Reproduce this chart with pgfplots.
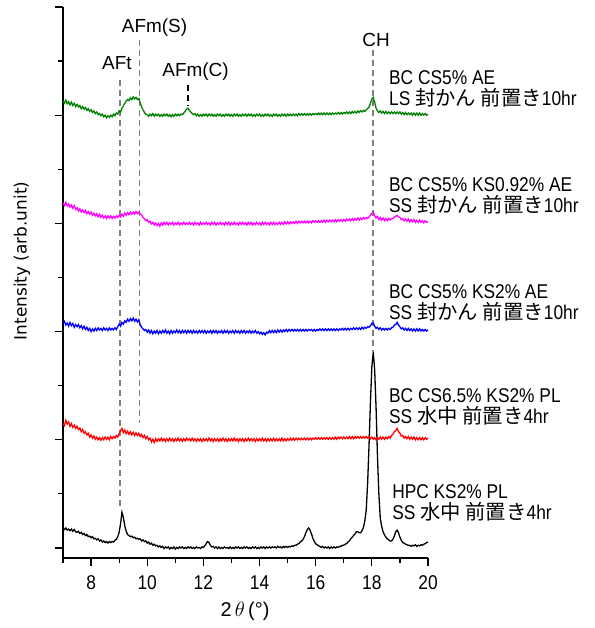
\documentclass[border=0pt]{standalone}
\usepackage{pgfplots}
\pgfplotsset{compat=1.18}
\usepackage{pgfplotstable}
\usepackage{fontspec}
\setmainfont{Liberation Sans}
\newfontfamily\narrow[FakeStretch=0.87]{Liberation Sans}
\newfontfamily\jp[Scale=1.02]{Noto Sans CJK JP}
\newfontfamily\dvs{DejaVu Sans}
\definecolor{cgreen}{RGB}{0,128,0}
\definecolor{cmag}{RGB}{255,0,255}
\definecolor{cblue}{RGB}{0,0,255}
\definecolor{cred}{RGB}{255,0,0}
\definecolor{cgray}{RGB}{128,128,128}
\pgfplotstableread{
x k r b p g
7.00 0.36 0.30 0.15 0.38 0.26
7.05 0.34 0.26 0.19 0.33 0.22
7.10 0.37 0.36 0.12 0.39 0.28
7.15 0.33 0.29 0.16 0.32 0.21
7.20 0.35 0.33 0.10 0.36 0.25
7.25 0.32 0.25 0.17 0.30 0.19
7.30 0.35 0.30 0.11 0.34 0.24
7.35 0.31 0.23 0.15 0.28 0.18
7.40 0.34 0.27 0.08 0.33 0.22
7.45 0.30 0.21 0.13 0.26 0.16
7.50 0.29 0.25 0.09 0.29 0.20
7.55 0.31 0.19 0.13 0.23 0.15
7.60 0.27 0.22 0.07 0.27 0.18
7.65 0.29 0.15 0.11 0.21 0.12
7.70 0.25 0.19 0.05 0.25 0.16
7.75 0.27 0.12 0.10 0.20 0.11
7.80 0.23 0.15 0.04 0.24 0.14
7.85 0.25 0.09 0.08 0.18 0.09
7.90 0.21 0.12 0.02 0.22 0.12
7.95 0.22 0.05 0.06 0.17 0.07
8.00 0.19 0.09 0.00 0.21 0.10
8.05 0.21 0.03 0.05 0.15 0.05
8.10 0.17 0.07 0.01 0.19 0.08
8.15 0.18 0.01 0.06 0.14 0.03
8.20 0.15 0.05 0.02 0.18 0.06
8.25 0.17 0.00 0.07 0.12 0.01
8.30 0.13 0.04 0.03 0.17 0.03
8.35 0.15 -0.01 0.06 0.11 -0.01
8.40 0.11 0.04 0.02 0.15 0.02
8.45 0.13 0.00 0.07 0.10 -0.03
8.50 0.10 0.05 0.03 0.14 0.00
8.55 0.12 0.01 0.06 0.09 -0.05
8.60 0.09 0.05 0.02 0.14 -0.01
8.65 0.12 0.00 0.07 0.10 -0.04
8.70 0.10 0.06 0.03 0.14 0.00
8.75 0.12 0.02 0.06 0.09 -0.03
8.80 0.11 0.06 0.03 0.13 0.02
8.85 0.14 0.03 0.07 0.10 -0.01
8.90 0.16 0.08 0.04 0.14 0.04
8.95 0.21 0.05 0.09 0.11 0.02
9.00 0.29 0.11 0.14 0.15 0.08
9.05 0.45 0.17 0.10 0.12 0.06
9.10 0.66 0.21 0.17 0.17 0.13
9.15 0.57 0.13 0.14 0.13 0.17
9.20 0.41 0.18 0.20 0.19 0.22
9.25 0.31 0.11 0.17 0.15 0.26
9.30 0.25 0.16 0.23 0.20 0.29
9.35 0.23 0.10 0.19 0.16 0.27
9.40 0.21 0.15 0.24 0.21 0.32
9.45 0.22 0.09 0.20 0.17 0.29
9.50 0.19 0.14 0.25 0.21 0.34
9.55 0.20 0.08 0.19 0.17 0.30
9.60 0.17 0.13 0.23 0.22 0.33
9.65 0.18 0.08 0.18 0.18 0.29
9.70 0.16 0.12 0.22 0.21 0.31
9.75 0.17 0.06 0.13 0.17 0.23
9.80 0.13 0.10 0.08 0.16 0.15
9.85 0.15 0.04 0.05 0.11 0.10
9.90 0.12 0.08 0.02 0.09 0.05
9.95 0.13 0.02 0.04 0.05 0.02
10.00 0.09 0.06 -0.01 0.07 0.01
10.05 0.11 0.00 0.03 0.02 -0.02
10.10 0.07 0.03 -0.03 0.04 0.02
10.15 0.09 -0.04 0.02 -0.01 -0.01
10.20 0.05 0.01 -0.04 0.02 0.03
10.25 0.07 -0.05 0.01 -0.03 -0.02
10.30 0.04 0.02 -0.03 0.01 0.02
10.35 0.05 -0.03 0.02 -0.04 -0.01
10.40 0.02 0.02 -0.04 0.00 0.02
10.45 0.04 -0.02 0.01 -0.05 -0.02
10.50 0.01 0.03 -0.03 0.01 0.01
10.55 0.03 -0.02 0.02 -0.03 -0.02
10.60 -0.01 0.02 -0.02 0.02 0.02
10.65 0.02 -0.03 0.03 -0.02 -0.01
10.70 0.00 0.02 -0.03 0.02 0.02
10.75 0.02 -0.02 0.01 -0.03 -0.02
10.80 -0.02 0.03 -0.04 0.01 0.01
10.85 0.01 -0.02 0.02 -0.02 -0.03
10.90 -0.01 0.02 -0.03 0.02 0.01
10.95 0.02 -0.03 0.01 -0.03 -0.02
11.00 -0.02 0.02 -0.02 0.01 0.02
11.05 0.01 -0.02 0.03 -0.02 -0.01
11.10 -0.01 0.03 -0.02 0.02 0.02
11.15 0.02 -0.02 0.02 -0.03 -0.01
11.20 0.00 0.02 -0.03 0.01 0.02
11.25 0.02 -0.03 0.02 -0.02 0.01
11.30 -0.01 0.02 -0.02 0.02 0.04
11.35 0.01 -0.02 0.02 -0.02 0.07
11.40 -0.01 0.03 -0.03 0.01 0.11
11.45 0.02 -0.01 0.02 -0.02 0.13
11.50 0.00 0.02 -0.02 0.02 0.09
11.55 0.02 -0.02 0.02 -0.02 0.06
11.60 -0.01 0.03 -0.03 0.01 0.03
11.65 0.01 -0.02 0.02 -0.03 0.01
11.70 -0.01 0.02 -0.02 0.02 0.03
11.75 0.02 -0.03 0.01 -0.02 -0.01
11.80 0.00 0.02 -0.03 0.01 0.02
11.85 0.01 -0.02 0.02 -0.03 -0.02
11.90 -0.01 0.02 -0.02 0.02 0.01
11.95 0.02 -0.03 0.02 -0.02 -0.02
12.00 0.01 0.02 -0.02 0.01 0.02
12.05 0.04 -0.02 0.02 -0.02 -0.01
12.10 0.08 0.02 -0.03 0.02 0.02
12.15 0.12 -0.02 0.01 -0.02 -0.02
12.20 0.10 0.03 -0.02 0.01 0.02
12.25 0.05 -0.02 0.02 -0.03 -0.01
12.30 0.02 0.02 -0.03 0.02 0.02
12.35 0.03 -0.03 0.02 -0.02 -0.02
12.40 0.00 0.02 -0.02 0.02 0.01
12.45 0.02 -0.02 0.02 -0.03 -0.02
12.50 -0.01 0.02 -0.03 0.01 0.02
12.55 0.02 -0.03 0.01 -0.02 -0.01
12.60 -0.01 0.02 -0.02 0.02 0.02
12.65 0.01 -0.02 0.02 -0.02 -0.02
12.70 -0.01 0.03 -0.03 0.01 0.01
12.75 0.02 -0.02 0.02 -0.03 -0.02
12.80 0.00 0.02 -0.02 0.02 0.02
12.85 0.01 -0.03 0.02 -0.02 -0.01
12.90 -0.01 0.02 -0.03 0.02 0.02
12.95 0.02 -0.02 0.01 -0.03 -0.02
13.00 -0.01 0.02 -0.02 0.01 0.01
13.05 0.01 -0.02 0.02 -0.02 -0.02
13.10 -0.01 0.03 -0.03 0.02 0.02
13.15 0.02 -0.02 0.02 -0.02 -0.01
13.20 0.00 0.02 -0.02 0.01 0.02
13.25 0.02 -0.03 0.01 -0.03 -0.02
13.30 -0.01 0.02 -0.03 0.02 0.01
13.35 0.01 -0.02 0.02 -0.02 -0.02
13.40 -0.01 0.02 -0.02 0.02 0.02
13.45 0.02 -0.03 0.02 -0.02 -0.01
13.50 0.00 0.02 -0.03 0.01 0.02
13.55 0.02 -0.02 0.01 -0.03 -0.02
13.60 -0.01 0.03 -0.02 0.02 0.02
13.65 0.01 -0.02 0.02 -0.02 -0.01
13.70 -0.01 0.02 -0.03 0.02 0.02
13.75 0.02 -0.02 0.01 -0.03 -0.02
13.80 0.00 0.02 -0.02 0.01 0.01
13.85 0.02 -0.03 0.02 -0.02 -0.02
13.90 -0.01 0.02 -0.03 0.02 0.02
13.95 0.01 -0.02 0.00 -0.02 -0.01
14.00 -0.01 0.02 -0.04 0.01 0.02
14.05 0.02 -0.02 -0.01 -0.03 -0.02
14.10 0.00 0.03 -0.05 0.02 0.01
14.15 0.02 -0.02 -0.02 -0.02 -0.02
14.20 -0.01 0.02 -0.06 0.02 0.02
14.25 0.02 -0.03 -0.01 -0.02 -0.01
14.30 0.00 0.02 -0.03 0.01 0.02
14.35 0.02 -0.02 0.02 -0.03 -0.02
14.40 0.00 0.02 -0.02 0.02 0.01
14.45 0.02 -0.02 0.02 -0.02 -0.02
14.50 0.01 0.03 -0.02 0.02 0.02
14.55 0.02 -0.02 0.02 -0.02 -0.01
14.60 0.00 0.02 -0.02 0.01 0.02
14.65 0.03 -0.02 0.03 -0.02 -0.02
14.70 0.01 0.02 -0.01 0.02 0.01
14.75 0.02 -0.02 0.03 -0.02 -0.02
14.80 0.00 0.03 -0.01 0.02 0.02
14.85 0.03 -0.02 0.03 -0.02 -0.01
14.90 0.01 0.02 0.00 0.03 0.02
14.95 0.03 -0.02 0.04 -0.01 -0.02
15.00 0.01 0.02 0.00 0.03 0.02
15.05 0.03 -0.01 0.04 -0.01 -0.01
15.10 0.02 0.03 0.01 0.03 0.02
15.15 0.04 -0.01 0.04 0.00 -0.01
15.20 0.03 0.03 0.01 0.03 0.02
15.25 0.05 -0.01 0.04 0.00 -0.01
15.30 0.05 0.03 0.01 0.04 0.02
15.35 0.07 0.00 0.04 0.00 -0.01
15.40 0.08 0.03 0.01 0.04 0.03
15.45 0.11 0.00 0.04 0.01 0.00
15.50 0.13 0.03 0.01 0.04 0.03
15.55 0.16 0.00 0.04 0.01 0.00
15.60 0.21 0.03 0.01 0.04 0.03
15.65 0.28 0.00 0.04 0.01 0.00
15.70 0.34 0.03 0.01 0.04 0.03
15.75 0.37 0.00 0.04 0.01 0.00
15.80 0.33 0.03 0.02 0.04 0.03
15.85 0.26 0.00 0.04 0.01 0.00
15.90 0.18 0.03 0.01 0.05 0.03
15.95 0.12 0.01 0.04 0.02 0.01
16.00 0.08 0.04 0.01 0.05 0.03
16.05 0.06 0.01 0.04 0.02 0.01
16.10 0.04 0.04 0.02 0.05 0.04
16.15 0.03 0.01 0.05 0.02 0.01
16.20 0.01 0.04 0.02 0.05 0.04
16.25 0.03 0.01 0.05 0.02 0.01
16.30 0.00 0.04 0.02 0.06 0.04
16.35 0.02 0.01 0.05 0.02 0.01
16.40 0.00 0.04 0.02 0.06 0.04
16.45 0.02 0.01 0.05 0.03 0.01
16.50 -0.01 0.04 0.02 0.06 0.04
16.55 0.02 0.01 0.05 0.03 0.01
16.60 0.00 0.04 0.02 0.06 0.04
16.65 0.02 0.01 0.05 0.03 0.02
16.70 0.00 0.05 0.02 0.07 0.04
16.75 0.02 0.01 0.05 0.03 0.02
16.80 0.01 0.05 0.02 0.07 0.05
16.85 0.03 0.02 0.05 0.04 0.02
16.90 0.03 0.05 0.03 0.07 0.05
16.95 0.05 0.02 0.06 0.04 0.02
17.00 0.05 0.05 0.03 0.07 0.05
17.05 0.07 0.02 0.06 0.04 0.03
17.10 0.08 0.05 0.03 0.08 0.06
17.15 0.11 0.02 0.06 0.05 0.03
17.20 0.13 0.06 0.03 0.08 0.06
17.25 0.17 0.02 0.06 0.05 0.03
17.30 0.20 0.06 0.04 0.09 0.07
17.35 0.23 0.02 0.07 0.05 0.04
17.40 0.26 0.06 0.04 0.09 0.07
17.45 0.30 0.03 0.07 0.06 0.04
17.50 0.30 0.06 0.04 0.10 0.08
17.55 0.28 0.03 0.07 0.06 0.05
17.60 0.28 0.06 0.04 0.10 0.08
17.65 0.32 0.03 0.08 0.07 0.06
17.70 0.38 0.06 0.05 0.11 0.09
17.75 0.50 0.03 0.08 0.08 0.07
17.80 0.70 0.06 0.06 0.11 0.10
17.85 1.20 0.03 0.09 0.09 0.12
17.90 1.90 0.06 0.08 0.12 0.15
17.95 2.70 0.02 0.11 0.15 0.22
18.00 3.35 0.05 0.15 0.19 0.30
18.05 3.62 0.01 0.16 0.20 0.33
18.10 3.30 0.04 0.10 0.14 0.24
18.15 2.60 0.00 0.06 0.10 0.13
18.20 1.70 0.04 0.08 0.13 0.08
18.25 1.00 0.01 0.04 0.07 0.05
18.30 0.55 0.05 0.07 0.11 0.08
18.35 0.40 0.01 0.03 0.06 0.04
18.40 0.30 0.05 0.06 0.10 0.07
18.45 0.24 0.01 0.03 0.05 0.03
18.50 0.20 0.05 0.06 0.09 0.07
18.55 0.17 0.02 0.03 0.05 0.03
18.60 0.15 0.06 0.06 0.09 0.06
18.65 0.13 0.03 0.04 0.06 0.03
18.70 0.13 0.08 0.07 0.09 0.06
18.75 0.16 0.10 0.08 0.09 0.03
18.80 0.22 0.15 0.12 0.12 0.06
18.85 0.30 0.17 0.13 0.13 0.03
18.90 0.33 0.21 0.17 0.15 0.06
18.95 0.28 0.15 0.12 0.12 0.03
19.00 0.20 0.12 0.09 0.11 0.06
19.05 0.14 0.07 0.05 0.07 0.02
19.10 0.10 0.08 0.07 0.09 0.05
19.15 0.09 0.03 0.03 0.05 0.01
19.20 0.07 0.06 0.06 0.08 0.05
19.25 0.06 0.02 0.02 0.04 0.01
19.30 0.05 0.06 0.06 0.08 0.04
19.35 0.05 0.01 0.02 0.03 0.01
19.40 0.03 0.05 0.05 0.07 0.04
19.45 0.05 0.01 0.01 0.03 0.00
19.50 0.04 0.05 0.05 0.07 0.04
19.55 0.06 0.00 0.01 0.02 0.00
19.60 0.03 0.04 0.05 0.06 0.04
19.65 0.05 0.00 0.01 0.02 0.00
19.70 0.04 0.04 0.05 0.06 0.04
19.75 0.06 0.00 0.01 0.02 0.00
19.80 0.05 0.04 0.04 0.05 0.03
19.85 0.07 0.00 0.01 0.01 0.00
19.90 0.08 0.04 0.04 0.05 0.03
19.95 0.10 0.01 0.01 0.02 0.00
20.00 0.11 0.03 0.03 0.03 0.02
}\xrd
\begin{document}
\begin{tikzpicture}
\path[use as bounding box] (-63bp,-70bp) rectangle (532bp,558bp);
\begin{axis}[
  at={(0,0)}, anchor=south west,
  scale only axis, width=365bp, height=551bp,
  xmin=7, xmax=20, ymin=-0.185, ymax=10,
  axis x line*=bottom, axis y line*=left,
  tick align=outside,
  xtick={8,10,...,20}, minor xtick={7,9,...,19},
  ytick={0,2,...,10}, minor ytick={1,3,...,9}, yticklabels={},
  major tick length=8bp, minor tick length=5bp,
  every tick/.style={black, line width=1.2bp},
  every minor tick/.style={black, line width=1.2bp},
  axis line style={line width=1.3bp},
  ticklabel style={font=\narrow\fontsize{20}{22}\selectfont},
  xticklabel style={yshift=-6bp},
  /pgf/number format/assume math mode=true,
  clip=false,
]
% reference lines
\addplot[cgray, line width=1.3bp, dash pattern=on 6bp off 4bp] coordinates {(9.03,8.65) (9.03,0.72)};
\addplot[cgray, line width=1.3bp, dash pattern=on 6bp off 4bp] coordinates {(9.72,9.39) (9.72,2.31)};
\addplot[black, line width=1.3bp, dash pattern=on 6bp off 4bp] coordinates {(11.45,8.56) (11.45,8.17)};
\addplot[cgray, line width=1.3bp, dash pattern=on 6bp off 4bp] coordinates {(18.04,9.2) (18.04,3.62)};
% traces
\addplot[black, line width=1.3bp] table[x=x, y=k] {\xrd};
\addplot[cred, line width=1.3bp] table[x=x, y expr=\thisrow{r}+2] {\xrd};
\addplot[cblue, line width=1.3bp] table[x=x, y expr=\thisrow{b}+4] {\xrd};
\addplot[cmag, line width=1.3bp] table[x=x, y expr=\thisrow{p}+6] {\xrd};
\addplot[cgreen, line width=1.3bp] table[x=x, y expr=\thisrow{g}+8] {\xrd};
% peak labels
\begin{scope}[every node/.style={inner sep=0pt, font=\fontsize{19}{21}\selectfont}]
\node at (axis cs:8.92,8.965) {AFt};
\node at (axis cs:10.26,9.61) {AFm(S)};
\node at (axis cs:11.72,8.80) {AFm(C)};
\node at (axis cs:18.15,9.39) {CH};
\end{scope}
\begin{scope}[every node/.style={inner sep=0pt, anchor=west, align=left, font=\narrow\fontsize{20}{21}\selectfont}]
\node at (axis cs:18.61,8.484) {BC CS5\% AE\\LS {\jp 封かん} {\jp 前置き}10hr};
\node at (axis cs:18.61,6.506) {BC CS5\% KS0.92\% AE\\SS {\jp 封かん} {\jp 前置き}10hr};
\node at (axis cs:18.61,4.538) {BC CS5\% KS2\% AE\\SS {\jp 封かん} {\jp 前置き}10hr};
\node at (axis cs:18.61,2.606) {BC CS6.5\% KS2\% PL\\SS {\jp 水中} {\jp 前置き}4hr};
\node at (axis cs:18.72,0.832) {HPC KS2\% PL\\SS {\jp 水中} {\jp 前置き}4hr};
\end{scope}
\end{axis}
\node[rotate=90, inner sep=0pt, font=\dvs\fontsize{17}{18}\selectfont] at (-41bp,297bp) {Intensity (arb.unit)};
\node[inner sep=0pt, font=\fontsize{20}{22}\selectfont] at (182bp,-53bp) {2\,$\theta$\,(°)};
\end{tikzpicture}
\end{document}
